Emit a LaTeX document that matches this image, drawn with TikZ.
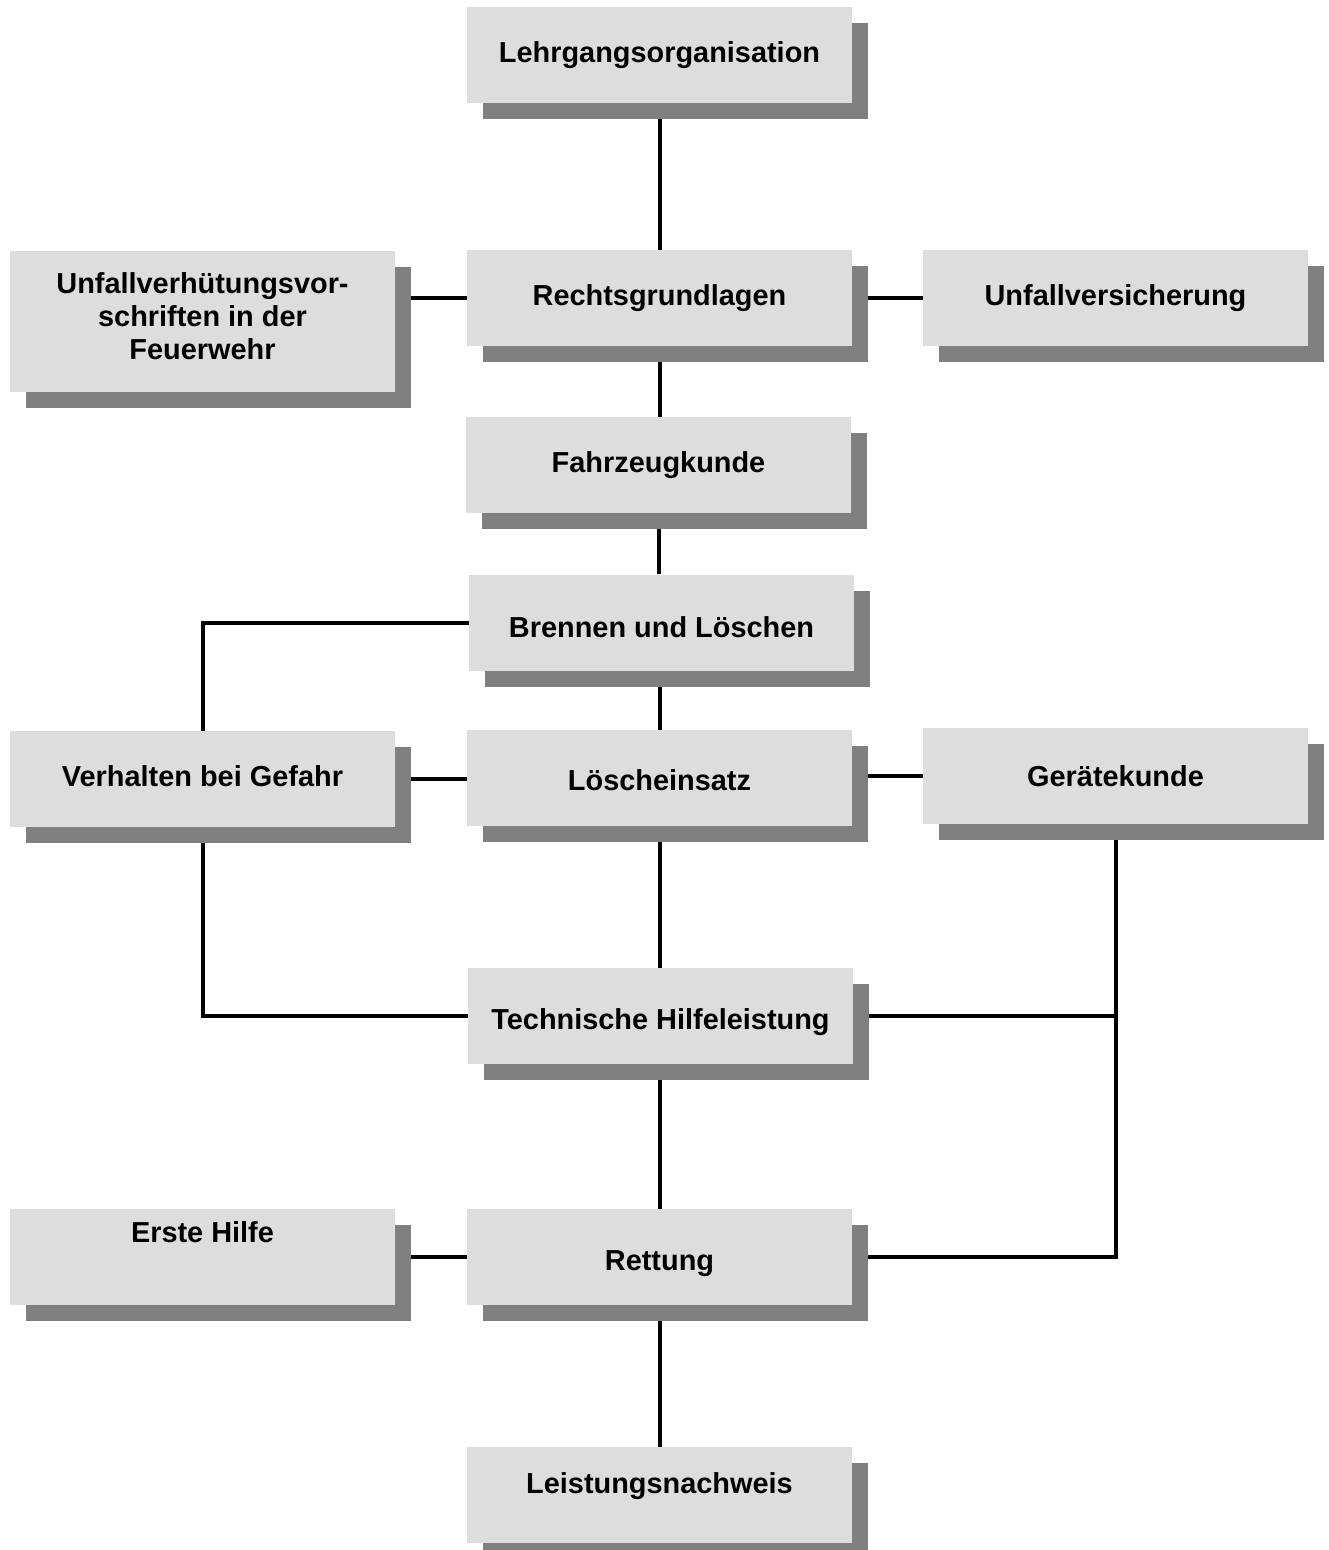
\documentclass[tikz,border=0pt]{standalone}
\usepackage{fontspec}
\setmainfont{Liberation Sans}
\usepackage{xcolor}
\usepackage{tikz}
\usetikzlibrary{shadows,backgrounds}
\definecolor{boxgray}{HTML}{DDDDDD}
\definecolor{shadegray}{HTML}{808080}

\begin{document}
\begin{tikzpicture}[
  x=1pt, y=-1pt,
  box/.style={fill=boxgray, inner sep=0pt, minimum width=385pt, minimum height=96pt, align=center,
    font=\bfseries\fontsize{28.9}{33}\selectfont,
    drop shadow={shadow xshift=16pt, shadow yshift=-16pt, fill=shadegray, opacity=1}},
  link/.style={line width=4pt}
]
\useasboundingbox (0,0) rectangle (1328,1550);
\node[box] (lehrgang) at (659.5,55) {Lehrgangsorganisation};
\node[box] (recht) at (659.5,298) {Rechtsgrundlagen};
\node[box, minimum height=141pt, text depth=11pt] (uvv) at (202.5,321.5) {Unfallverhütungsvor-\\schriften in der\\Feuerwehr};
\node[box] (versich) at (1115.5,298) {Unfallversicherung};
\node[box] (fahrzeug) at (658.5,465) {Fahrzeugkunde};
\node[box, text height=30pt] (brennen) at (661.5,622.5) {Brennen und Löschen};
\node[box, text depth=6pt] (verhalten) at (202.5,779) {Verhalten bei Gefahr};
\node[box, text height=25pt] (loesch) at (659.5,778) {Löscheinsatz};
\node[box] (geraete) at (1115.5,776) {Gerätekunde};
\node[box, text height=34pt] (thl) at (660.5,1016) {Technische Hilfeleistung};
\node[box, text depth=50pt] (erste) at (202.5,1257) {Erste Hilfe};
\node[box, text height=33pt] (rettung) at (659.5,1257) {Rettung};
\node[box, text depth=24pt] (nachweis) at (659.5,1495) {Leistungsnachweis};

\begin{pgfonlayer}{background}
\draw[link] (lehrgang) -- (recht);
\draw[link] (recht.west) -- (uvv.east |- recht.west);
\draw[link] (recht) -- (versich);
\draw[link] (recht.south) -- (recht.south |- fahrzeug.north);
\draw[link] (fahrzeug.south) -- (fahrzeug.south |- brennen.north);
\draw[link] (brennen.west) -| (verhalten.north);
\draw[link] (loesch.north) -- (loesch.north |- brennen.south);
\draw[link] (verhalten.east) -- (verhalten.east -| loesch.west);
\draw[link] (geraete.west) -- (geraete.west -| loesch.east);
\draw[link] (loesch) -- (thl.north -| loesch);
\draw[link] (verhalten.south) |- (thl.west);
\draw[link] (thl.east) -- (thl.east -| geraete.south);
\draw[link] (geraete.south) |- (rettung.east);
\draw[link] (thl.south -| rettung) -- (rettung);
\draw[link] (erste) -- (rettung);
\draw[link] (rettung) -- (nachweis);
\end{pgfonlayer}
\end{tikzpicture}
\end{document}
